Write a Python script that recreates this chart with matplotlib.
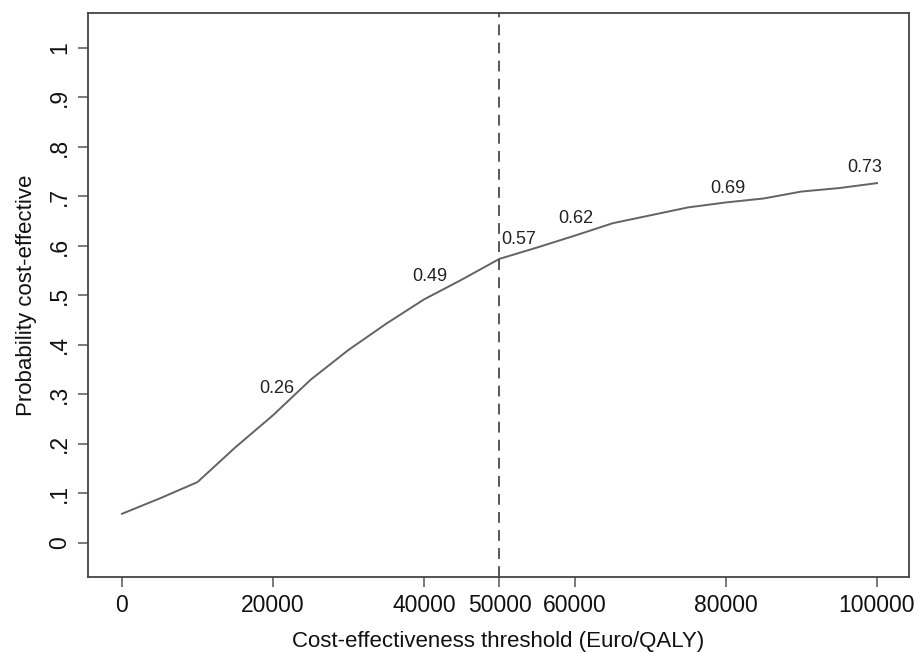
import matplotlib
matplotlib.use("Agg")
import matplotlib.pyplot as plt

plt.rcParams['font.family'] = ['Liberation Sans', 'DejaVu Sans']

# cost-effectiveness acceptability curve
thresholds = [0, 5000, 10000, 15000, 20000, 25000, 30000, 35000, 40000, 45000,
              50000, 55000, 60000, 65000, 70000, 75000, 80000, 85000, 90000, 95000, 100000]
prob_ce = [0.059, 0.090, 0.123, 0.193, 0.258, 0.330, 0.390, 0.443, 0.492, 0.532,
           0.574, 0.597, 0.621, 0.646, 0.662, 0.678, 0.688, 0.696, 0.710, 0.717, 0.727]

label_x = [20000, 40000, 50000, 60000, 80000, 100000]
label_text = ["0.26", "0.49", "0.57", "0.62", "0.69", "0.73"]
label_y = [0.258, 0.492, 0.574, 0.621, 0.688, 0.727]
# label centre offsets from the point, in pixels
label_off = [(4, 27), (6, 23), (19, 19), (1, 17), (2, 14), (-12, 16)]

xticks = [0, 20000, 40000, 50000, 60000, 80000, 100000]
yticks = [0, 0.1, 0.2, 0.3, 0.4, 0.5, 0.6, 0.7, 0.8, 0.9, 1.0]
yticklabels = ["0", ".1", ".2", ".3", ".4", ".5", ".6", ".7", ".8", ".9", "1"]
ref_line = 50000

fig = plt.figure(figsize=(9.14, 6.53), dpi=100)
ax = fig.add_axes([0.0963, 0.1164, 0.8982, 0.8637])

ax.plot(thresholds, prob_ce, color="#636363", lw=1.4)
ax.axvline(ref_line, color="#4a4a4a", lw=1.3, ls=(0, (6, 4)))

for x, y, t, off in zip(label_x, label_y, label_text, label_off):
    ax.annotate(t, (x, y), xytext=off, textcoords="offset pixels",
                ha="center", va="center", fontsize=13, color="#222222")

ax.set_xlim(-4500, 104240)
ax.set_ylim(-0.0687, 1.0707)
ax.set_xticks(xticks)
ax.set_xticklabels([str(v) for v in xticks])
ax.set_yticks(yticks)
ax.set_yticklabels(yticklabels, rotation=90, va="center")

ax.tick_params(axis="both", direction="out", length=7, width=1.1,
               color="#555555", labelsize=16.5, labelcolor="#111111", pad=5)
for s in ax.spines.values():
    s.set_color("#444444")
    s.set_linewidth(1.3)

ax.set_xlabel("Cost-effectiveness threshold (Euro/QALY)", fontsize=16, labelpad=10, color="#111111")
ax.set_ylabel("Probability cost-effective", fontsize=16, labelpad=8, color="#111111")

fig.savefig("out.png", dpi=100)
